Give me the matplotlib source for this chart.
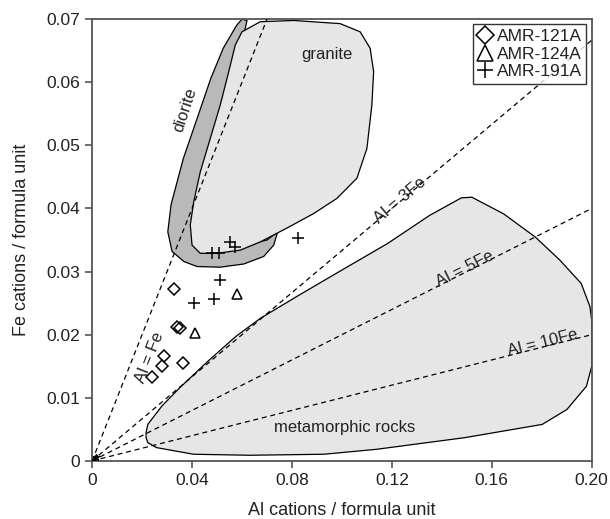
import matplotlib.pyplot as plt
from matplotlib.patches import Polygon
import numpy as np

plt.rcParams['font.family'] = ['Liberation Sans', 'DejaVu Sans']

# sample data (Al, Fe cations per formula unit)
amr121a_al = [0.0326, 0.0338, 0.0350, 0.0286, 0.0280, 0.0239, 0.0363]
amr121a_fe = [0.0273, 0.0212, 0.0210, 0.0167, 0.0151, 0.0133, 0.0155]
amr124a_al = [0.0582, 0.0411]
amr124a_fe = [0.0265, 0.0202]
amr191a_al = [0.0481, 0.0508, 0.0553, 0.0573, 0.0824, 0.0512, 0.0488, 0.0409]
amr191a_fe = [0.0330, 0.0329, 0.0347, 0.0339, 0.0353, 0.0287, 0.0257, 0.0250]

# ratio lines Al = n*Fe
ratios = [1, 3, 5, 10]
ratio_labels = ['Al = Fe', 'Al = 3Fe', 'Al = 5Fe', 'Al = 10Fe']
ratio_label_x = [0.0230, 0.1231, 0.1492, 0.1802]
ratio_label_y = [0.0164, 0.0412, 0.0305, 0.0187]

# field outlines
granite_x = [0.0600, 0.0673, 0.0807, 0.0993, 0.1073, 0.1113, 0.1127, 0.1120, 0.1100,
             0.1060, 0.0980, 0.0887, 0.0780, 0.0673, 0.0593, 0.0500, 0.0433, 0.0400,
             0.0393, 0.0407, 0.0433, 0.0473, 0.0513, 0.0547, 0.0573]
granite_y = [0.0680, 0.0696, 0.0698, 0.0693, 0.0680, 0.0654, 0.0617, 0.0564, 0.0495,
             0.0448, 0.0416, 0.0392, 0.0369, 0.0347, 0.0334, 0.0329, 0.0329, 0.0342,
             0.0374, 0.0411, 0.0458, 0.0511, 0.0564, 0.0617, 0.0659]

diorite_x = [0.0600, 0.0578, 0.0525, 0.0475, 0.0425, 0.0365, 0.0316, 0.0303, 0.0320,
             0.0367, 0.0420, 0.0513, 0.0607, 0.0687, 0.0727, 0.0743,
             0.0700, 0.0593, 0.0500, 0.0433, 0.0413, 0.0407, 0.0420, 0.0447, 0.0487,
             0.0527, 0.0560, 0.0587, 0.0613, 0.0620]
diorite_y = [0.0700, 0.0690, 0.0654, 0.0606, 0.0548, 0.0479, 0.0406, 0.0363, 0.0332,
             0.0316, 0.0308, 0.0307, 0.0312, 0.0324, 0.0342, 0.0363,
             0.0350, 0.0340, 0.0335, 0.0338, 0.0355, 0.0382, 0.0414, 0.0462, 0.0515,
             0.0568, 0.0620, 0.0660, 0.0685, 0.0698]

meta_x = [0.0216, 0.0223, 0.0279, 0.0350, 0.0463, 0.0575, 0.0674, 0.0829, 0.0999,
          0.1182, 0.1351, 0.1478, 0.1520, 0.1647, 0.1774, 0.1873, 0.1958, 0.1993,
          0.2000, 0.2000, 0.1979, 0.1901, 0.1802, 0.1492, 0.1140, 0.0928, 0.0632,
          0.0406, 0.0258, 0.0223, 0.0216]
meta_y = [0.00447, 0.00578, 0.00867, 0.01156, 0.01577, 0.01971, 0.0226, 0.02628, 0.03022,
          0.03443, 0.0389, 0.04168, 0.04179, 0.03916, 0.03548, 0.0318, 0.02812, 0.02444,
          0.02234, 0.01498, 0.01183, 0.00815, 0.00578, 0.00368, 0.00184, 0.00105, 0.00089,
          0.00105, 0.0021, 0.00289, 0.0037]

xticks = [0, 0.04, 0.08, 0.12, 0.16, 0.20]
xtick_labels = ['0', '0.04', '0.08', '0.12', '0.16', '0.20']
yticks = [0, 0.01, 0.02, 0.03, 0.04, 0.05, 0.06, 0.07]
ytick_labels = ['0', '0.01', '0.02', '0.03', '0.04', '0.05', '0.06', '0.07']

fig = plt.figure(figsize=(6.1, 5.19), dpi=100)
ax = fig.add_axes([0.151, 0.112, 0.819, 0.851])
ax.set_xlim(0, 0.2)
ax.set_ylim(0, 0.07)

edge = 'black'
ax.add_patch(Polygon(np.column_stack([meta_x, meta_y]), closed=True,
                     facecolor='#e6e6e6', edgecolor=edge, lw=0.9, zorder=1))
ax.add_patch(Polygon(np.column_stack([diorite_x, diorite_y]), closed=True,
                     facecolor='#b9b9b9', edgecolor=edge, lw=0.9, zorder=1))
ax.add_patch(Polygon(np.column_stack([granite_x, granite_y]), closed=True,
                     facecolor='#e6e6e6', edgecolor=edge, lw=0.9, zorder=2))

txt = '#222222'

# ratio lines and their labels
xx = np.array([0, 0.2])
for n, lab, lx, ly in zip(ratios, ratio_labels, ratio_label_x, ratio_label_y):
    ax.plot(xx, xx / n, ls=(0, (4, 3)), color='black', lw=0.9, zorder=3)
    p0 = ax.transData.transform((0, 0))
    p1 = ax.transData.transform((0.1, 0.1 / n))
    ang = np.degrees(np.arctan2(p1[1] - p0[1], p1[0] - p0[0]))
    ax.text(lx, ly, lab, rotation=ang, rotation_mode='anchor', ha='center', va='center',
            fontsize=12, color=txt, zorder=4)

ax.plot([0.0015], [0.0006], marker='*', color='black', ms=5, zorder=4)

ax.text(0.094, 0.0644, 'granite', ha='center', va='center', fontsize=12, color=txt, zorder=4)
ax.text(0.0372, 0.0556, 'diorite', ha='center', va='center', rotation=72,
        fontsize=12, color=txt, zorder=4)
ax.text(0.101, 0.00526, 'metamorphic rocks', ha='center', va='center', fontsize=12,
        color=txt, zorder=4)

ax.plot(amr121a_al, amr121a_fe, ls='none', marker='D', ms=6.5, mfc='none', mec='black',
        mew=1.1, label='AMR-121A', zorder=5)
ax.plot(amr124a_al, amr124a_fe, ls='none', marker='^', ms=7.5, mfc='none', mec='black',
        mew=1.1, label='AMR-124A', zorder=5)
ax.plot(amr191a_al, amr191a_fe, ls='none', marker='+', ms=8, mec='black',
        mew=1.1, label='AMR-191A', zorder=5)

leg = ax.legend(loc='upper right', fontsize=12.5, frameon=True, fancybox=False,
                edgecolor='black', handlelength=0.9, handletextpad=0.25, markerscale=1.45,
                borderpad=0.25, labelspacing=0.15, borderaxespad=0.3)
leg.get_frame().set_linewidth(1.0)
for t in leg.get_texts():
    t.set_color(txt)

ax.set_xticks(xticks)
ax.set_xticklabels(xtick_labels)
ax.set_yticks(yticks)
ax.set_yticklabels(ytick_labels)
ax.tick_params(direction='out', length=5, width=1.2, color='#555555', labelsize=12.5,
               labelcolor=txt)
for s in ax.spines.values():
    s.set_color('#555555')
    s.set_linewidth(1.3)

ax.set_xlabel('Al cations / formula unit', fontsize=13, color=txt, labelpad=10)
ax.set_ylabel('Fe cations / formula unit', fontsize=13, color=txt, labelpad=12)

fig.savefig('out.png', dpi=100)
